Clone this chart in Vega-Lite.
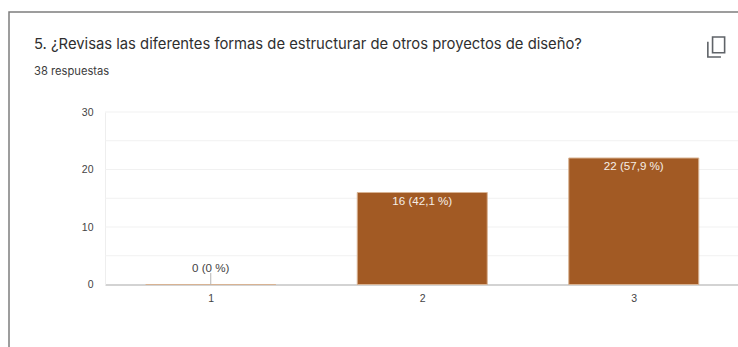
{
  "$schema": "https://vega.github.io/schema/vega-lite/v6.json",
  "autosize": {"type": "none"},
  "padding": {"left": 9, "top": 12, "right": 0, "bottom": 0},
  "width": 732,
  "height": 338,
  "background": "#ffffff",
  "view": {"stroke": "#7d7d7d", "strokeWidth": 1.5, "fill": "#ffffff"},
  "title": {
    "text": "5. ¿Revisas las diferentes formas de estructurar de otros proyectos de diseño?",
    "subtitle": "38 respuestas",
    "anchor": "start",
    "frame": "group",
    "align": "left",
    "dx": 25,
    "dy": 69,
    "font": "Inter",
    "fontSize": 14.8,
    "fontWeight": "normal",
    "color": "#2f2f2f",
    "subtitleFont": "Inter",
    "subtitleFontSize": 11.2,
    "subtitleColor": "#3c3c3c",
    "subtitlePadding": 14
  },
  "datasets": {
    "answers": [
      {"option": 1, "count": 0, "label": "0 (0 %)"},
      {"option": 2, "count": 16, "label": "16 (42,1 %)"},
      {"option": 3, "count": 22, "label": "22 (57,9 %)"}
    ],
    "gridlines": [
      {"level": 5}, {"level": 10}, {"level": 15}, {"level": 20}, {"level": 25}, {"level": 30}
    ]
  },
  "layer": [
    {
      "data": {"name": "gridlines"},
      "mark": {"type": "rule", "color": "#f1f1f1", "strokeWidth": 1},
      "encoding": {
        "x": {"datum": 0.5, "type": "quantitative"},
        "x2": {"datum": 3.5},
        "y": {"field": "level", "type": "quantitative"}
      }
    },
    {
      "data": {"name": "answers"},
      "mark": {"type": "bar", "width": 130, "color": "#a25a24", "stroke": "#d8b393", "strokeWidth": 1},
      "encoding": {
        "x": {
          "field": "option",
          "type": "quantitative",
          "scale": {"domain": [0.5, 3.5], "range": [96, 730.5], "nice": false, "zero": false, "padding": 0},
          "axis": {
            "values": [1, 2, 3],
            "title": null,
            "offset": -65.5,
            "grid": false,
            "ticks": false,
            "format": "d",
            "domainColor": "#c4c4c4",
            "domainWidth": 1.5,
            "labelFont": "Liberation Sans",
            "labelFontSize": 10.5,
            "labelColor": "#444444",
            "labelPadding": 9
          }
        },
        "y": {
          "field": "count",
          "type": "quantitative",
          "scale": {"domain": [0, 30], "range": [272.5, 100], "nice": false},
          "axis": {
            "values": [0, 10, 20, 30],
            "title": null,
            "offset": -96,
            "grid": false,
            "ticks": false,
            "domainColor": "#eeeeee",
            "labelFont": "Liberation Sans",
            "labelFontSize": 10.5,
            "labelColor": "#444444",
            "labelPadding": 12
          }
        }
      }
    },
    {
      "data": {"name": "answers"},
      "transform": [{"filter": "datum.count === 0"}],
      "mark": {"type": "rule", "color": "#b5b5b5", "strokeWidth": 1},
      "encoding": {
        "x": {"field": "option", "type": "quantitative"},
        "y": {"field": "count", "type": "quantitative"},
        "y2": {"datum": 2}
      }
    },
    {
      "data": {"name": "answers"},
      "transform": [{"filter": "datum.count === 0"}],
      "mark": {"type": "text", "font": "Liberation Sans", "fontSize": 11.6, "color": "#444444", "dy": -16},
      "encoding": {
        "x": {"field": "option", "type": "quantitative"},
        "y": {"field": "count", "type": "quantitative"},
        "text": {"field": "label"}
      }
    },
    {
      "data": {"name": "answers"},
      "transform": [{"filter": "datum.count > 0"}],
      "mark": {"type": "text", "font": "Liberation Sans", "fontSize": 11.6, "color": "#f6eee6", "dy": 9},
      "encoding": {
        "x": {"field": "option", "type": "quantitative"},
        "y": {"field": "count", "type": "quantitative"},
        "text": {"field": "label"}
      }
    },
    {
      "data": {"values": [{"icon": "copy"}]},
      "mark": {
        "type": "point",
        "filled": false,
        "shape": "M-0.35,-0.95 H0.8 V0.55 H-0.35 Z M-0.8,-0.5 V0.95 H0.45",
        "size": 440,
        "stroke": "#5f6368",
        "strokeWidth": 1.6,
        "opacity": 1
      },
      "encoding": {
        "x": {"datum": 3.39, "type": "quantitative"},
        "y": {"datum": 41.3, "type": "quantitative"}
      }
    }
  ]
}
